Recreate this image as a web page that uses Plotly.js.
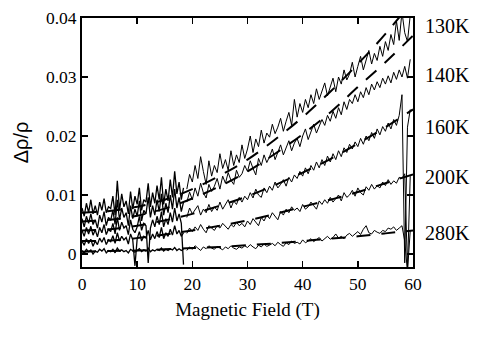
<!DOCTYPE html>
<html>
<head>
<meta charset="utf-8">
<script src="https://cdn.plot.ly/plotly-3.0.1.min.js"></script>
<style>
  html, body { margin: 0; padding: 0; background: #fff; }
  #plot { width: 485px; height: 347px; }
</style>
</head>
<body>
<div id="plot"></div>
<script>
// all resistance values below are in units of 1e-4 (dRho/Rho)
const temps = ['130K', '140K', '160K', '200K', '280K']

// low field sweep: starts at 0 T, one point per 0.4 T
const lowStart = 0
const lowStep = 0.4
const low130 = [78,64,86,70,92,68,82,66,88,74,94,70,80,77,98,66,124,74,102,80,90,68,106,76,98,84,112,74,92,88,120,80,104,86,116,92,130,84,110,90,126,96,140,102,122,92,112]
const low140 = [60,46,64,52,68,50,58,44,66,54,72,48,62,57,74,50,92,58,78,62,70,48,82,60,76,64,90,56,74,68,96,62,82,66,92,72,102,66,86,70,100,76,110,78,96,72,88]
const low160 = [40,30,45,34,47,32,41,29,45,36,50,33,42,38,52,34,62,40,54,44,48,33,58,42,36,46,64,40,52,48,-15,44,58,46,64,50,72,46,60,50,70,54,78,56,68,52,-18]
const low200 = [22,15,26,18,25,13,22,16,27,20,28,16,24,21,31,18,36,22,30,24,28,17,34,24,-20,26,38,22,30,27,40,24,34,26,38,28,45,26,36,30,42,32,48,34,40,30,36]
const low280 = [6,1,8,4,7,0,5,3,8,5,9,2,6,4,8,2,10,5,7,4,6,2,8,5,3,6,9,4,7,5,10,4,7,5,8,6,10,5,8,6,9,7,11,6,9,6,8]

// pulsed field: starts at 19 T, one point per 0.5 T
const highStart = 19
const highStep = 0.5
const high130 = [110,135,122,150,128,165,140,118,158,132,
  150,138,170,145,160,142,175,150,168,155,
  185,162,178,200,172,195,182,210,188,205,
  198,220,204,215,230,208,225,240,218,262,
  232,255,240,262,248,270,255,280,262,275,
  290,268,285,298,275,300,288,312,295,305,
  325,300,318,335,312,330,345,322,340,328,
  352,335,360,345,372,355,395,362,410,375,
  360,405]
const high140 = [88,105,92,112,98,120,104,95,118,106,
  115,128,110,132,120,138,125,118,142,130,
  136,150,140,158,145,134,162,150,168,155,
  165,178,160,172,185,168,180,192,175,188,
  196,182,200,212,194,208,220,205,215,228,
  218,235,225,242,230,248,236,258,245,262,
  255,270,258,275,265,282,270,288,278,292,
  282,298,288,302,290,308,296,312,300,318,
  298,330]
const high160 = [62,78,68,74,82,66,76,70,84,72,
  80,74,88,76,84,92,78,90,84,96,
  88,98,92,104,95,110,100,96,112,104,
  115,108,122,112,118,126,115,130,122,134,
  128,140,132,146,136,150,142,156,146,160,
  150,166,156,170,160,175,165,180,172,186,
  178,190,182,196,186,200,192,206,196,212,
  202,216,208,222,212,228,218,235,270,-15,
  215,245]
const high200 = [35,44,38,46,40,50,42,36,48,44,
  40,48,44,52,46,42,50,46,54,48,
  52,46,56,50,60,54,48,62,56,66,
  60,70,64,58,72,66,76,70,80,74,
  78,72,84,76,80,88,82,76,90,84,
  92,86,96,88,94,100,90,104,96,100,
  108,98,112,104,100,114,108,118,110,116,
  112,122,116,126,118,124,120,130,128,136,
  -25,132]
const high280 = [6,12,8,14,10,6,12,9,14,10,
  8,13,10,7,12,9,14,10,8,12,
  10,14,11,16,12,9,15,12,17,13,
  15,18,14,20,16,13,19,16,22,18,
  20,17,24,19,22,26,21,24,28,22,
  26,30,25,28,34,27,30,26,32,35,
  30,34,38,33,42,48,36,34,40,37,
  35,40,38,44,42,46,40,44,48,22,
  -30,40]

// fitted curves (dashed), read every 5 T
const fitField = [0,5,10,15,20,25,30,35,40,45,50,55,60]
const fit130 = [70,73,80,92,110,133,160,194,232,275,322,373,430]
const fit140 = [55,58,65,77,94,115,140,170,203,240,283,325,370]
const fit160 = [40,42,48,57,68,82,98,117,138,161,187,215,245]
const fit200 = [22,23,27,33,40,48,57,68,80,92,105,120,135]
const fit280 = [4,5,6,8,10,12,15,18,22,26,30,35,40]

const scale = arr => arr.map(v => v / 10000)

const lowSets = [low130, low140, low160, low200, low280]
const highSets = [high130, high140, high160, high200, high280]
const fitSets = [fit130, fit140, fit160, fit200, fit280]
const labelY = [0.0386, 0.0303, 0.0215, 0.013, 0.0036]

let data = []

for (let i = 0; i < temps.length; i++) {
  data.push({
    y: scale(lowSets[i]), x0: lowStart, dx: lowStep,
    mode: 'lines', line: {color: '#000', width: 1.3}, hoverinfo: 'skip'
  })
  data.push({
    y: scale(highSets[i]), x0: highStart, dx: highStep,
    mode: 'lines', line: {color: '#000', width: 1}, hoverinfo: 'skip'
  })
  data.push({
    x: fitField, y: scale(fitSets[i]),
    mode: 'lines', line: {color: '#000', width: 2, dash: '14px,11px', shape: 'spline'},
    hoverinfo: 'skip'
  })
}

const annotations = temps.map((t, i) => ({
  text: t, xref: 'paper', yref: 'y', x: 1.03, y: labelY[i],
  xanchor: 'left', yanchor: 'middle', showarrow: false,
  font: {family: 'Liberation Serif', size: 20, color: '#000'}
}))

const tickFont = {family: 'Liberation Serif', size: 17.5, color: '#000'}

Plotly.newPlot('plot', data, {
  width: 485,
  height: 347,
  margin: {l: 82, r: 72, t: 18, b: 80},
  showlegend: false,
  paper_bgcolor: '#fff',
  plot_bgcolor: '#fff',
  xaxis: {
    range: [0, 60], dtick: 10, tick0: 0,
    ticks: 'inside', ticklen: 6, tickwidth: 1.5, tickcolor: '#000',
    showline: true, linewidth: 2, linecolor: '#000', mirror: 'ticks',
    showgrid: false, zeroline: false,
    tickfont: tickFont,
    title: {text: 'Magnetic Field (T)', font: {family: 'Liberation Serif', size: 19, color: '#000'}, standoff: 10}
  },
  yaxis: {
    range: [-0.0022, 0.04], dtick: 0.01, tick0: 0,
    ticks: 'inside', ticklen: 6, tickwidth: 1.5, tickcolor: '#000',
    showline: true, linewidth: 2, linecolor: '#000', mirror: 'ticks',
    showgrid: false, zeroline: false,
    tickfont: tickFont,
    title: {text: 'Δρ/ρ', font: {family: 'Liberation Sans', size: 20, color: '#000'}, standoff: 12}
  },
  annotations: annotations
}, {
  displayModeBar: false,
  staticPlot: true
});
</script>
</body>
</html>
